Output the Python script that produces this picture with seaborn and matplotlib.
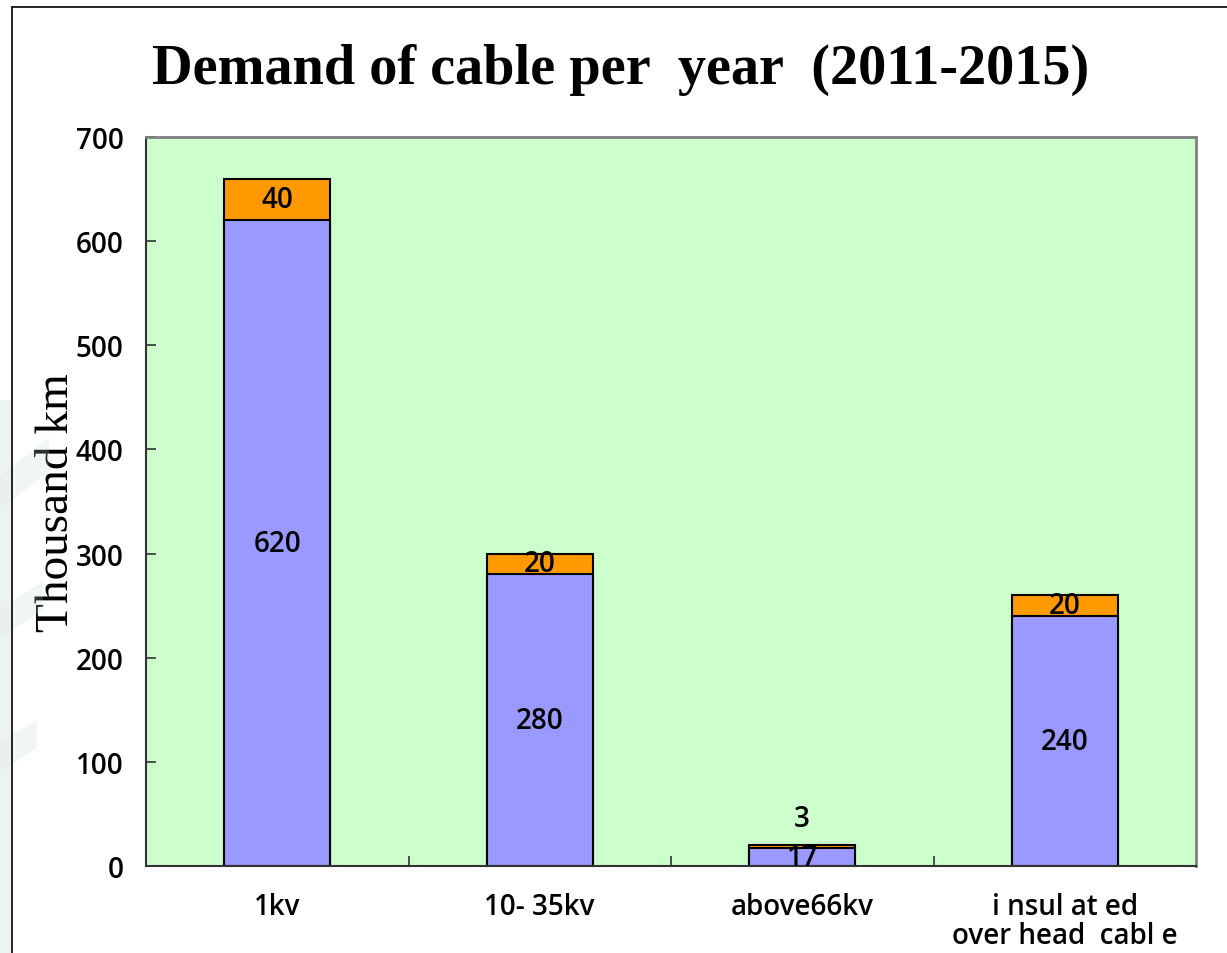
import matplotlib
matplotlib.use("Agg")
import matplotlib.pyplot as plt
from matplotlib.patches import Polygon
from matplotlib.lines import Line2D
import seaborn as sns
import pandas as pd

# Cable demand per year, thousand km
categories = ["1kv", "10- 35kv", "above66kv", "i nsul at ed\nover head  cabl e"]
base_values = [620, 280, 17, 240]
extra_values = [40, 20, 3, 20]
y_ticks = [0, 100, 200, 300, 400, 500, 600, 700]

totals = [b + e for b, e in zip(base_values, extra_values)]
df = pd.DataFrame({"category": categories, "base": base_values,
                   "extra": extra_values, "total": totals})

sns.set_theme(style="white")
plt.rcParams["font.family"] = ["Open Sans", "DejaVu Sans"]
TXT_SIZE = 20
TXT_WEIGHT = 600

fig = plt.figure(figsize=(12.27, 9.54), dpi=100)
fig.patch.set_facecolor("white")

# faint decorative streaks along the left edge of the slide
streaks = [
    [(0, 0.50), (0.04, 0.54), (0.04, 0.505), (0, 0.465)],
    [(0, 0.36), (0.035, 0.39), (0.035, 0.36), (0, 0.33)],
    [(0, 0.22), (0.03, 0.245), (0.03, 0.215), (0, 0.19)],
]
for pts in streaks:
    fig.patches.append(Polygon(pts, closed=True, transform=fig.transFigure,
                               facecolor="#c2d8d3", edgecolor="none",
                               alpha=0.22, zorder=0))
fig.patches.append(Polygon([(0, 0), (0.01, 0), (0.01, 0.58), (0, 0.58)],
                           closed=True, transform=fig.transFigure,
                           facecolor="#e6eeec", edgecolor="none",
                           alpha=0.7, zorder=0))

# slide frame
fig.lines.append(Line2D([12 / 1227, 12 / 1227], [0, 1 - 8 / 954],
                        transform=fig.transFigure, color="black", lw=1.2))
fig.lines.append(Line2D([12 / 1227, 1], [1 - 8 / 954, 1 - 8 / 954],
                        transform=fig.transFigure, color="black", lw=1.2))

ax = fig.add_axes([146 / 1227, 87 / 954, 1050 / 1227, 729 / 954])
ax.set_facecolor("#CCFFCC")

sns.barplot(data=df, x="category", y="total", color="#FF9900",
            saturation=1, width=0.405, edgecolor="black", linewidth=1.5, ax=ax)
sns.barplot(data=df, x="category", y="base", color="#9999FF",
            saturation=1, width=0.405, edgecolor="black", linewidth=1.5, ax=ax)

ax.set_xlim(-0.5, len(categories) - 0.5)
ax.set_ylim(0, 700)
ax.set_yticks(y_ticks)
ax.set_yticklabels([str(t) for t in y_ticks])

label_kw = dict(ha="center", va="center", fontsize=TXT_SIZE,
                fontweight=TXT_WEIGHT, color="black")
for i, (b, e) in enumerate(zip(base_values, extra_values)):
    ax.text(i, b / 2, str(b), **label_kw)
    if e >= 10:
        ax.text(i, b + e / 2, str(e), **label_kw)
    else:
        ax.annotate(str(e), xy=(i, b + e), xytext=(0, 19),
                    textcoords="offset points", **label_kw)

# axis styling
for side in ["top", "right"]:
    ax.spines[side].set_color("#808080")
    ax.spines[side].set_linewidth(2)
for side in ["left", "bottom"]:
    ax.spines[side].set_color("#333333")
    ax.spines[side].set_linewidth(1.5)

ax.tick_params(axis="y", direction="in", length=7, width=1.2,
               color="#333333", pad=16, labelsize=TXT_SIZE, left=True)
ax.tick_params(axis="x", which="major", length=0, pad=19,
               labelsize=TXT_SIZE)
ax.set_xticks([0.5, 1.5, 2.5], minor=True)
ax.tick_params(axis="x", which="minor", direction="in", length=7,
               width=1.2, color="#333333", bottom=True)
for lbl in ax.get_xticklabels() + ax.get_yticklabels():
    lbl.set_fontweight(TXT_WEIGHT)
    lbl.set_color("black")
for lbl in ax.get_xticklabels():
    lbl.set_linespacing(1.0)

ax.set_xlabel("")
ax.set_ylabel("Thousand km", family="Liberation Serif", fontsize=34,
              color="black")
ax.yaxis.set_label_coords(-68 / 1050, 0.5)

fig.text(621 / 1227, 1 - 70 / 954, "Demand of cable per  year  (2011-2015)",
         family="Liberation Serif", fontweight="bold", fontsize=40.5,
         ha="center", va="center", color="black")

fig.savefig("out.png", dpi=100)
